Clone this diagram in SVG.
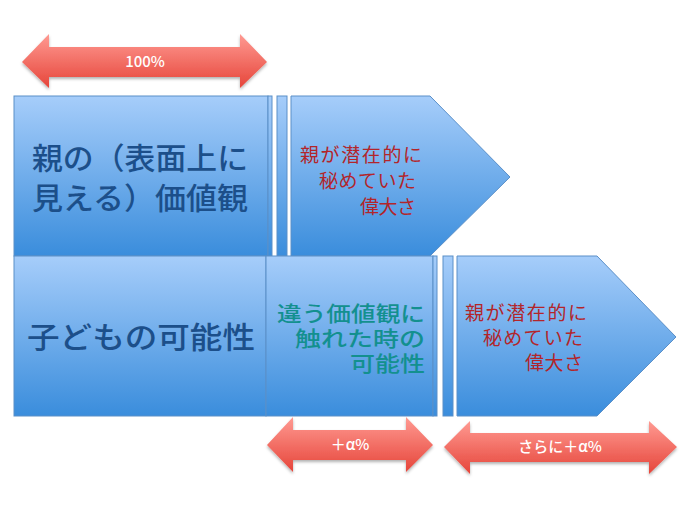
<svg xmlns="http://www.w3.org/2000/svg" width="684" height="512" viewBox="0 0 684 512">
<defs>
<linearGradient id="gb" x1="0" y1="0" x2="0" y2="1"><stop offset="0" stop-color="#a6cdfa"/><stop offset="1" stop-color="#3a8ddc"/></linearGradient>
<linearGradient id="gr" x1="0" y1="0" x2="0" y2="1"><stop offset="0" stop-color="#ff9a92"/><stop offset="1" stop-color="#e6453a"/></linearGradient>
<filter id="sh" x="-10%" y="-10%" width="120%" height="130%"><feDropShadow dx="0" dy="2" stdDeviation="1.5" flood-color="#000" flood-opacity="0.3"/></filter>
</defs>
<style>
.b{fill:url(#gb);stroke:#5a8fc8;stroke-width:1}
.a{fill:url(#gr);filter:url(#sh)}
text{font-family:"Noto Sans CJK JP","Liberation Sans",sans-serif;font-weight:500}
.big{font-size:30px;fill:#1c4f8a}
.red{font-size:19px;fill:#b3252a;font-weight:normal;text-anchor:end}
.teal{font-size:21px;fill:#13908f;text-anchor:end}
.w{font-size:15px;fill:#fff;text-anchor:middle}
</style>
<g id="arrow100"><polygon class="a" points="22,62 49,34 49,47 240,47 240,34 267,62 240,88 240,77 49,77 49,88"/><text class="w" x="145" y="67">100%</text></g>
<g id="node-parent"><rect class="b" x="14" y="96" width="254" height="160"/><text class="big" x="32" y="169" textLength="216" lengthAdjust="spacingAndGlyphs">親の（表面上に</text><text class="big" x="32" y="209" textLength="216" lengthAdjust="spacingAndGlyphs">見える）価値観</text></g>
<g id="strips-top"><rect class="b" x="268" y="96" width="4" height="160"/><rect class="b" x="277" y="96" width="10" height="160"/></g>
<g id="node-greatness1"><polygon class="b" points="291,96 430,96 510,177 430,256 291,256"/><text class="red" x="422" y="162" textLength="122">親が潜在的に</text><text class="red" x="416" y="188" textLength="97">秘めていた</text><text class="red" x="416" y="214" textLength="56">偉大さ</text></g>
<g id="node-child"><rect class="b" x="14" y="256" width="252" height="160"/><text class="big" x="27" y="348" textLength="228" lengthAdjust="spacingAndGlyphs">子どもの可能性</text></g>
<g id="node-possibility"><rect class="b" x="266" y="256" width="167" height="160"/><text class="teal" x="425" y="321" textLength="148" lengthAdjust="spacingAndGlyphs">違う価値観に</text><text class="teal" x="425" y="346" textLength="130" lengthAdjust="spacingAndGlyphs">触れた時の</text><text class="teal" x="425" y="371" textLength="75" lengthAdjust="spacingAndGlyphs">可能性</text></g>
<g id="strips-bottom"><rect class="b" x="433" y="256" width="4" height="160"/><rect class="b" x="443" y="256" width="10" height="160"/></g>
<g id="node-greatness2"><polygon class="b" points="457,256 597,256 676,337 597,416 457,416"/><text class="red" x="587" y="320" textLength="122">親が潜在的に</text><text class="red" x="583" y="345" textLength="100">秘めていた</text><text class="red" x="583" y="370" textLength="58">偉大さ</text></g>
<g id="connectors">
<g id="arrow-alpha"><polygon class="a" points="267,445 293,417 293,430 406,430 406,417 433,445 406,472 406,460 293,460 293,472"/><text class="w" x="350" y="450">＋α%</text></g>
<g id="arrow-more"><polygon class="a" points="444,447 470,421 470,433 649,433 649,421 677,447 649,474 649,462 470,462 470,474"/><text class="w" x="560" y="452">さらに＋α%</text></g>
</g>
</svg>
